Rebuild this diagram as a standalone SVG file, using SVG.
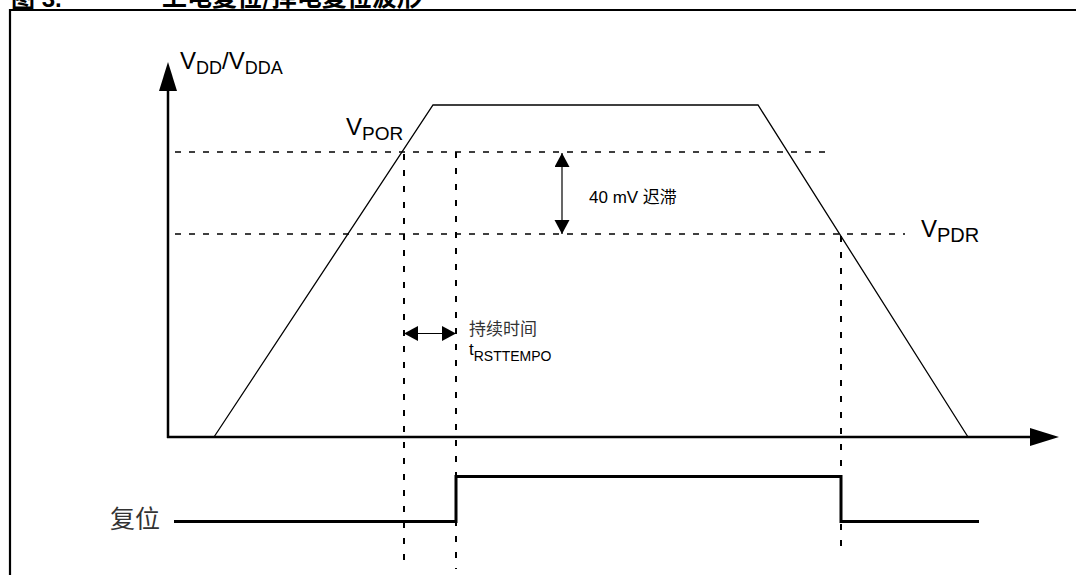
<svg xmlns="http://www.w3.org/2000/svg" width="1076" height="575" viewBox="0 0 1076 575">
<style>
.lat{font-family:"Liberation Sans",Arial,"Noto Sans CJK SC",sans-serif;fill:#000}
.cjk{font-family:"Noto Sans CJK SC","Liberation Sans",sans-serif;fill:#000}
.gray{fill:#333}
.dh{stroke:#000;stroke-width:1.5;stroke-dasharray:6 8;fill:none}
.dv{stroke:#000;stroke-width:2;stroke-dasharray:6 10;fill:none}
.axis{stroke:#000;stroke-width:2.5;fill:none}
.thin{stroke:#000;stroke-width:1.3;fill:none}
.sig{stroke:#000;stroke-width:3;fill:none}
.dim{stroke:#000;stroke-width:1.2;fill:none}
</style>
<defs>
<marker id="big" markerUnits="userSpaceOnUse" markerWidth="30" markerHeight="20" refX="0" refY="9" orient="auto" viewBox="0 0 30 20">
<path d="M0,0 L29,9 L0,18 Z" fill="#000"/>
</marker>
<marker id="sm" markerUnits="userSpaceOnUse" markerWidth="15" markerHeight="16" refX="14" refY="7.5" orient="auto-start-reverse" viewBox="0 0 15 16">
<path d="M0,0 L14,7.5 L0,15 Z" fill="#000"/>
</marker>
</defs>
<rect width="1076" height="575" fill="#fff"/>
<g id="title">
<text x="11" y="7" class="lat" font-size="24" font-weight="bold">图 3.</text>
<text x="162" y="6" class="cjk" font-size="25" font-weight="bold">上电复位/掉电复位波形</text>
</g>
<g id="frame">
<path d="M10,575 L10,10 L1076,10" stroke="#000" stroke-width="2.2" fill="none"/>
</g>
<g id="axes">
<line x1="168" y1="438" x2="168" y2="91" class="axis" marker-end="url(#big)"/>
<line x1="167" y1="437" x2="1030" y2="437" class="axis" marker-end="url(#big)"/>
</g>
<g id="vdd-waveform">
<polyline points="214,437 433,105 758,105 968,437" class="thin"/>
</g>
<g id="thresholds">
<line x1="175" y1="152" x2="830" y2="152" class="dh"/>
<line x1="175" y1="234" x2="905" y2="234" class="dh"/>
<line x1="404" y1="154" x2="404" y2="563" class="dv"/>
<line x1="456" y1="152" x2="456" y2="569" class="dv"/>
<line x1="841" y1="236" x2="841" y2="553" class="dv"/>
</g>
<g id="reset-signal">
<polyline points="174,521.5 456,521.5 456,476.5 841,476.5 841,521.5 979,521.5" class="sig"/>
</g>
<g id="connectors">
<line x1="562" y1="153" x2="562" y2="234" class="dim" marker-start="url(#sm)" marker-end="url(#sm)"/>
<line x1="404" y1="333.5" x2="456" y2="333.5" class="dim" marker-start="url(#sm)" marker-end="url(#sm)"/>
</g>
<g id="labels">
<text x="180" y="69" class="lat" font-size="24">V<tspan font-size="18" dy="5">DD</tspan><tspan font-size="24" dy="-5">/V</tspan><tspan font-size="18" dy="5">DDA</tspan></text>
<text x="346" y="135" class="lat" font-size="24">V<tspan font-size="19" dy="5">POR</tspan></text>
<text x="921" y="237" class="lat" font-size="24">V<tspan font-size="20" dy="5">PDR</tspan></text>
<text x="589" y="203" class="lat" font-size="17">40 mV <tspan class="cjk">迟滞</tspan></text>
<text x="469" y="335" class="cjk gray" font-size="17">持续时间</text>
<text x="469" y="355" class="lat" font-size="17">t<tspan font-size="14" dy="6">RSTTEMPO</tspan></text>
<text x="110" y="528" class="cjk gray" font-size="25">复位</text>
</g>
</svg>
